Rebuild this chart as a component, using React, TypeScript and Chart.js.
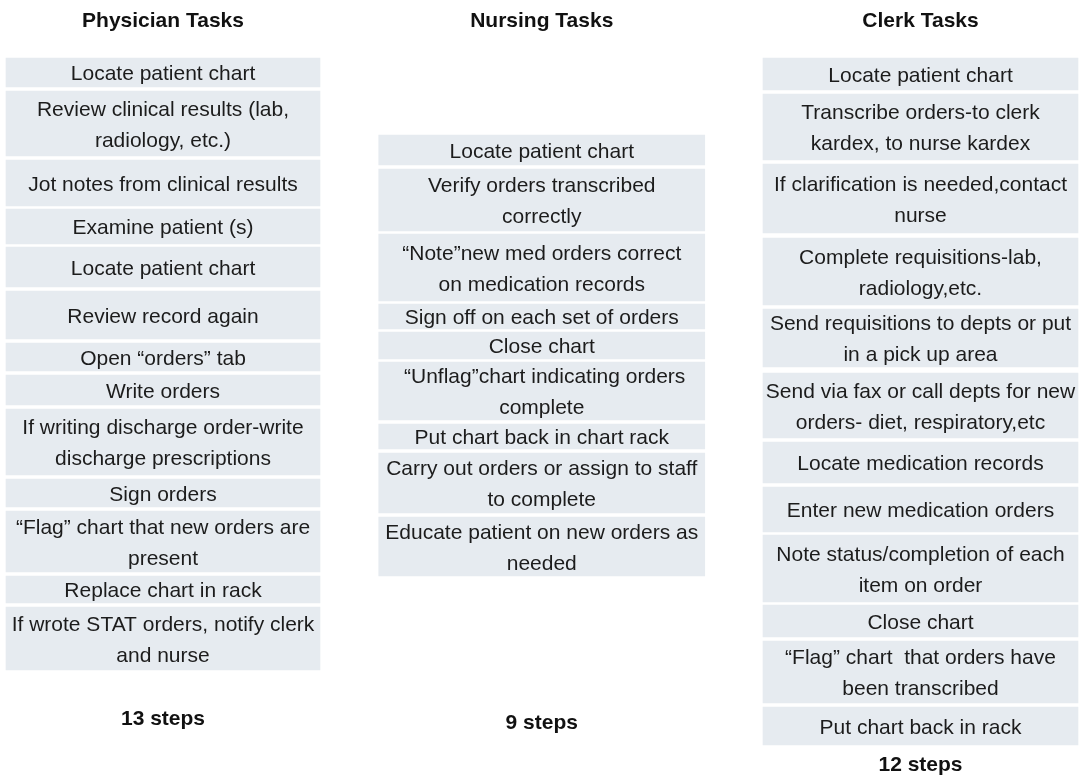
import React, { useEffect, useRef } from "react";
import { Chart, registerables } from "chart.js";

Chart.register(...registerables);

// ---- Data ----
const columns = ["Physician Tasks", "Nursing Tasks", "Clerk Tasks"];

const physicianTasks = [
  "Locate patient chart",
  "Review clinical results (lab,\nradiology, etc.)",
  "Jot notes from clinical results",
  "Examine patient (s)",
  "Locate patient chart",
  "Review record again",
  "Open \u201corders\u201d tab",
  "Write orders",
  "If writing discharge order-write\ndischarge prescriptions",
  "Sign orders",
  "\u201cFlag\u201d chart that new orders are\npresent",
  "Replace chart in rack",
  "If wrote STAT orders, notify clerk\nand nurse",
];
// [top, bottom] of each step box on the vertical (reversed) axis
const physicianSpans = [
  [58, 87], [91, 156], [160, 206], [209, 244], [247, 287], [291, 339], [343, 371],
  [375, 405], [409, 475], [479, 507], [511, 572], [576, 603], [607, 670],
];

const nursingTasks = [
  "Locate patient chart",
  "Verify orders transcribed\ncorrectly",
  "\u201cNote\u201dnew med orders correct\non medication records",
  "Sign off on each set of orders",
  "Close chart",
  " \u201cUnflag\u201dchart indicating orders\ncomplete",
  "Put chart back in chart rack",
  "Carry out orders or assign to staff\nto complete",
  "Educate patient on new orders as\nneeded",
];
const nursingSpans = [
  [135, 165], [169, 231], [234, 301], [304, 329], [332, 359], [362, 420],
  [424, 449], [453, 513], [517, 576],
];

const clerkTasks = [
  "Locate patient chart",
  "Transcribe orders-to clerk\nkardex, to nurse kardex",
  "If clarification is needed,contact\nnurse",
  "Complete requisitions-lab,\nradiology,etc.",
  "Send requisitions to depts or put\nin a pick up area",
  "Send via fax or call depts for new\norders- diet, respiratory,etc",
  "Locate medication records",
  "Enter new medication orders",
  "Note status/completion of each\nitem on order",
  "Close chart",
  "\u201cFlag\u201d chart  that orders have\nbeen transcribed",
  "Put chart back in rack",
];
const clerkSpans = [
  [58, 90], [94, 160], [164, 233], [238, 305], [309, 367], [373, 438],
  [442, 483], [487, 532], [535, 602], [605, 637], [641, 703], [707, 745],
];

const titleLevel = 27; // baseline of column titles (axis units)
const stepLabelLevels = [725, 729, 771]; // baselines of "n steps" captions

const allTasks = [physicianTasks, nursingTasks, clerkTasks];
const allSpans = [physicianSpans, nursingSpans, clerkSpans];
const columnWidths = [314, 326, 315];

const BOX_COLOR = "#e6ebf0";
const TEXT_COLOR = "#1c1c1c";
const FONT_FAMILY = '"Liberation Sans", Arial, Helvetica, sans-serif';

const textPlugin = {
  id: "taskText",
  afterDatasetsDraw(chart: any) {
    const ctx = chart.ctx;
    const xScale = chart.scales.x;
    const yScale = chart.scales.y;
    ctx.save();
    ctx.fillStyle = TEXT_COLOR;
    ctx.textAlign = "center";
    ctx.textBaseline = "alphabetic";
    const lineH = 31;
    const capHalf = 7.5;
    ctx.font = `21px ${FONT_FAMILY}`;
    chart.data.datasets.forEach((ds: any, di: number) => {
      const meta = chart.getDatasetMeta(di);
      meta.data.forEach((bar: any, j: number) => {
        const p = bar.getProps(["x", "y", "base"], true);
        const cy = (p.y + p.base) / 2;
        const lines = String(ds.taskLabels[j]).split("\n");
        const n = lines.length;
        lines.forEach((ln: string, k: number) => {
          const by = cy + (k - (n - 1) / 2) * lineH + capHalf;
          ctx.fillText(ln, p.x, by);
        });
      });
    });
    ctx.font = `bold 21px ${FONT_FAMILY}`;
    ctx.fillStyle = "#111111";
    columns.forEach((c, i) => {
      const x = xScale.getPixelForValue(i);
      ctx.fillText(c, x, yScale.getPixelForValue(titleLevel));
      ctx.fillText(
        `${allTasks[i].length} steps`,
        x,
        yScale.getPixelForValue(stepLabelLevels[i])
      );
    });
    ctx.restore();
  },
};

export default function App() {
  const canvasRef = useRef<HTMLCanvasElement | null>(null);

  useEffect(() => {
    if (!canvasRef.current) return;
    const datasets = columns.map((col, ci) => ({
      label: col,
      data: allSpans[ci].map((s) => ({ x: col, y: s })),
      taskLabels: allTasks[ci],
      backgroundColor: BOX_COLOR,
      borderWidth: 0,
      borderSkipped: false,
      barThickness: columnWidths[ci],
      stack: "all",
      clip: false,
    }));
    const chart = new Chart(canvasRef.current, {
      type: "bar",
      data: { labels: columns, datasets: datasets as any },
      options: {
        animation: false,
        responsive: false,
        events: [],
        layout: { padding: { left: 163, right: 163.5, top: 0, bottom: 0 } },
        plugins: { legend: { display: false }, tooltip: { enabled: false } },
        scales: {
          x: { type: "category", offset: false, display: false, grid: { display: false } },
          y: {
            type: "linear",
            min: 0,
            max: 778,
            reverse: true,
            stacked: false,
            display: false,
            grid: { display: false },
          },
        },
      },
      plugins: [textPlugin],
    });
    return () => chart.destroy();
  }, []);

  return (
    <div style={{ position: "absolute", left: 0, top: 0, width: 1084, height: 778, background: "#ffffff" }}>
      <canvas ref={canvasRef} width={1084} height={778} style={{ display: "block" }} />
    </div>
  );
}
